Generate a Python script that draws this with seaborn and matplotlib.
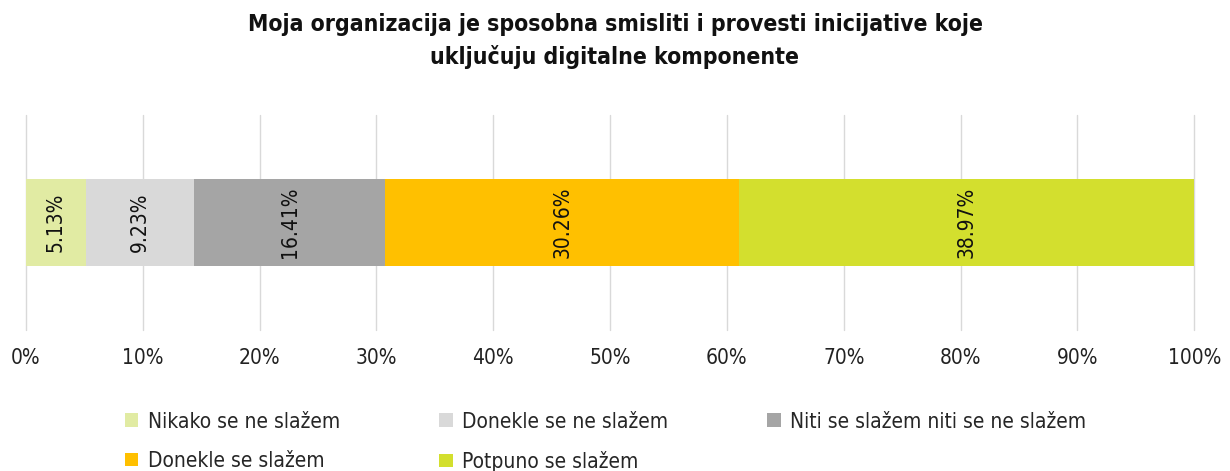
import numpy as np
import pandas as pd
import matplotlib
matplotlib.use("Agg")
import matplotlib.pyplot as plt
from matplotlib.patches import Patch
import seaborn as sns

# podaci
categories = ["Nikako se ne slažem", "Donekle se ne slažem", "Niti se slažem niti se ne slažem",
              "Donekle se slažem", "Potpuno se slažem"]
values = [5.13, 9.23, 16.41, 30.26, 38.97]
colors = ["#e1eba3", "#d9d9d9", "#a5a5a5", "#ffc000", "#d3df2e"]
title = "Moja organizacija je sposobna smisliti i provesti inicijative koje\nuključuju digitalne komponente"

sns.set_style("white")
plt.rcParams['font.family'] = ['DejaVu Sans']
plt.rcParams['font.stretch'] = 'condensed'

fig = plt.figure(figsize=(12.3, 4.71), dpi=100)
ax = fig.add_axes([0.021, 0.299, 0.95, 0.457])

# kumulativne vrijednosti, crtamo od najveće prema najmanjoj
cum = np.cumsum(values)
row = ["r"]
for i in range(len(values) - 1, -1, -1):
    df = pd.DataFrame({"y": row, "x": [cum[i]]})
    sns.barplot(data=df, x="x", y="y", orient="h", color=colors[i], width=0.4,
                saturation=1, linewidth=0, ax=ax, zorder=3)

# oznake unutar segmenata
starts = cum - np.array(values)
for s, v in zip(starts, values):
    ax.text(s + v / 2, 0, f"{v:.2f}%", rotation=90, ha="center", va="center",
            fontsize=15, color="#111111", zorder=4)

ax.set_xlim(0, 100)
ax.set_ylim(0.5, -0.5)
ax.set_xticks(np.arange(0, 101, 10))
ax.set_xticklabels([f"{t}%" for t in range(0, 101, 10)], fontsize=15, color="#222222")
ax.tick_params(axis="x", length=0, pad=13)
ax.set_yticks([])
ax.set_xlabel("")
ax.set_ylabel("")
ax.grid(axis="x", color="#d9d9d9", linewidth=1, zorder=0)
for gl in ax.get_xgridlines():
    gl.set_clip_on(False)
for sp in ax.spines.values():
    sp.set_visible(False)

fig.text(0.5, 0.913, title, fontsize=16.5, fontweight="bold", ha="center", va="center",
         linespacing=1.45, color="#111111")

# legenda po redovima (matplotlib puni po stupcima)
order = [0, 3, 1, 4, 2]
handles = [Patch(facecolor=colors[i], edgecolor="none") for i in order]
labels = [categories[i] for i in order]
fig.legend(handles, labels, loc="upper left", bbox_to_anchor=(0.1015, 0.126), ncol=3,
           frameon=False, fontsize=15, handlelength=0.65, handleheight=0.65,
           handletextpad=0.45, columnspacing=4.75, labelspacing=0.92,
           borderpad=0, borderaxespad=0)

fig.savefig("out.png", dpi=100)
